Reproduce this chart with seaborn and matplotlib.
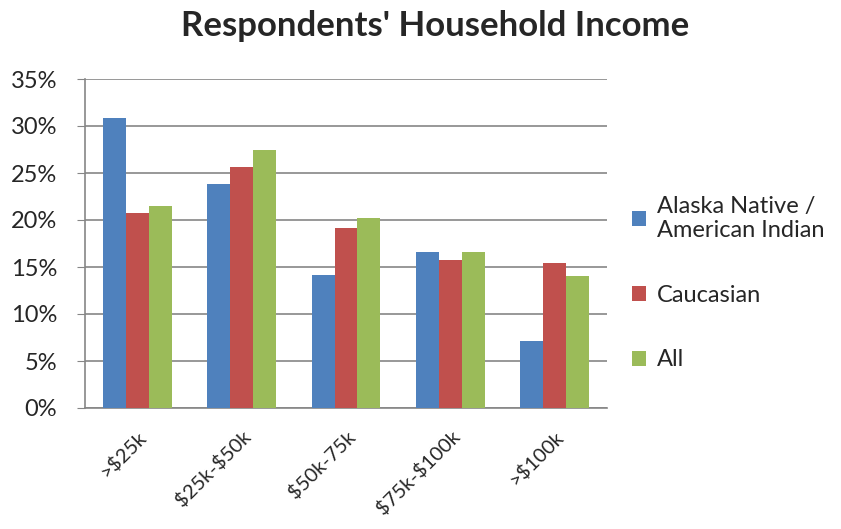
import pandas as pd
import matplotlib.pyplot as plt
import matplotlib.transforms as mtransforms
import seaborn as sns

# income brackets and shares (percent)
brackets = [">$25k", "$25k-$50k", "$50k-75k", "$75k-$100k", ">$100k"]
groups = ["Alaska Native /\nAmerican Indian", "Caucasian", "All"]
native = [30.9, 23.8, 14.2, 16.6, 7.1]
caucasian = [20.7, 25.6, 19.2, 15.7, 15.4]
all_resp = [21.5, 27.5, 20.2, 16.6, 14.0]
yticks = [0, 5, 10, 15, 20, 25, 30, 35]

base = pd.DataFrame({
    "bracket": brackets * 3,
    "group": [groups[0]] * 5 + [groups[1]] * 5 + [groups[2]] * 5,
    "share": native + caucasian + all_resp,
})

sns.set_style("white")
plt.rcParams["font.family"] = ["Lato", "DejaVu Sans"]

fig, ax = plt.subplots(figsize=(8.41, 5.29), dpi=100)
fig.subplots_adjust(left=85/841, right=607/841, top=1-79/529, bottom=1-408/529)

sns.barplot(
    data=base, x="bracket", y="share", hue="group",
    order=brackets, hue_order=groups,
    palette=["#4F81BD", "#C0504D", "#9BBB59"],
    width=0.66, saturation=1, linewidth=0, ax=ax, zorder=3,
)

ax.set_ylim(0, 35)
ax.set_xlim(-0.5, len(brackets) - 0.5)
ax.set_yticks(yticks)
ax.set_yticklabels([f"{t}%" for t in yticks], fontsize=17)
ax.yaxis.grid(True, color="#868686", linewidth=1.2, zorder=0)
ax.set_axisbelow(True)

# category tick marks sit between the groups
ax.set_xticks(range(len(brackets)))
ax.set_xticklabels([b.replace("$", r"\$") for b in brackets], fontsize=14.5,
                   rotation=45, ha="right", rotation_mode="anchor")
shift = mtransforms.ScaledTranslation(10/100, 0, fig.dpi_scale_trans)
for lbl in ax.get_xticklabels():
    lbl.set_transform(lbl.get_transform() + shift)
ax.set_xticks([i - 0.5 for i in range(len(brackets) + 1)], minor=True)
ax.tick_params(axis="x", which="major", length=0, pad=14)
ax.tick_params(axis="x", which="minor", length=6, color="#868686", direction="out")
ax.tick_params(axis="y", length=6, color="#868686", direction="out", left=True, pad=14)

for side in ["top", "right"]:
    ax.spines[side].set_visible(False)
for side in ["left", "bottom"]:
    ax.spines[side].set_color("#868686")
    ax.spines[side].set_linewidth(1.2)

ax.set_xlabel("")
ax.set_ylabel("")
fig.suptitle("Respondents' Household Income", x=0.517, y=0.982,
             fontsize=25, fontweight="bold")

ax.legend(loc="center left", bbox_to_anchor=(1.048, 0.38), frameon=False,
          borderpad=0, borderaxespad=0,
          fontsize=17, handlelength=0.6, handleheight=0.6, handletextpad=0.45,
          labelspacing=1.85)

plt.savefig("out.png", dpi=100)
